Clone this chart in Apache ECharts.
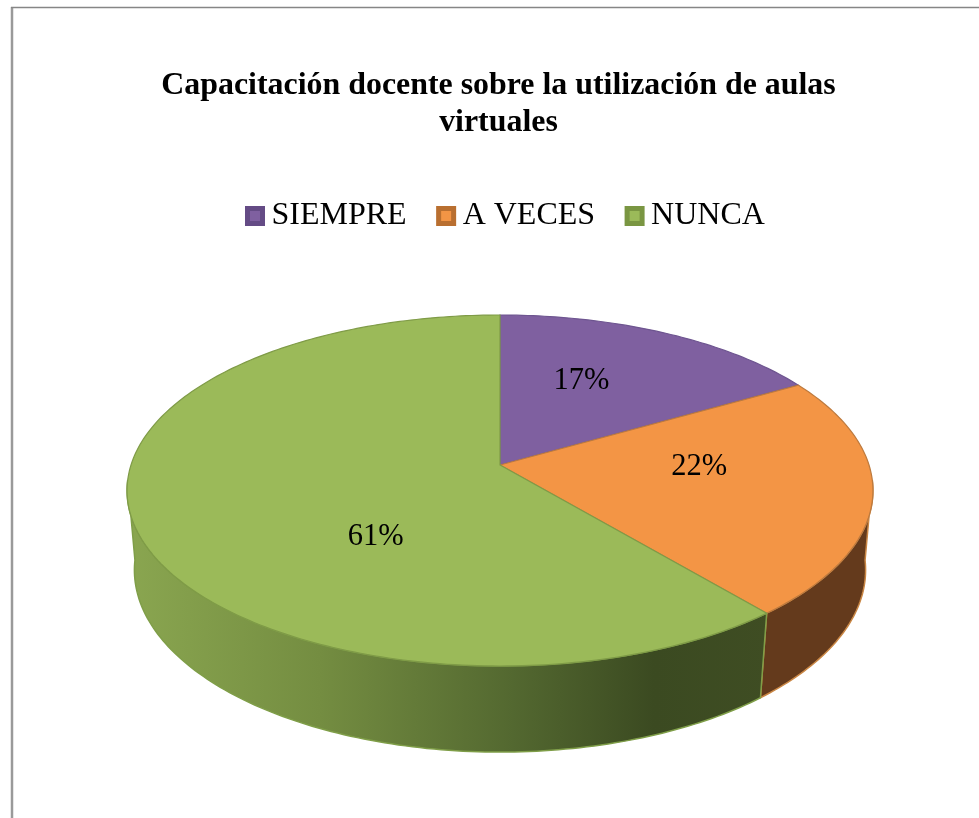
<!DOCTYPE html>
<html>
<head>
<meta charset="utf-8">
<style>
  html, body { margin: 0; padding: 0; background: #fff; }
  #chart { width: 979px; height: 818px; }
</style>
</head>
<body>
<div id="chart"></div>
<script src="https://cdn.jsdelivr.net/npm/echarts@6/dist/echarts.min.js"></script>
<script>
const categories = ["SIEMPRE", "A VECES", "NUNCA"];
const percents = [16.7, 22.2, 61.1];

const topColors = ["#7f60a0", "#f39545", "#9bba59"];
const edgeColors = ["#6e5590", "#bd7a3e", "#7f9b47"];
const legendBorders = ["#644b85", "#b96f30", "#7a9642"];
const wallEdges = ["#6a4f8a", "#c98644", "#7f9e48"];

// where each percentage sits inside its slice (unit circle), excel does not use the mid angle
const labelRadius = [0.59, 0.54, 0.5];
const labelTurn = [-6.3, -10, -30.5];

// the two perspective planes of the pie, top face and bottom face
const topPlane = { cx: 500, cy: 465, a: 369, b: 171.8, p: 0.1453 };
const bottomPlane = { cx: 500, cy: 544.5, a: 362, b: 178.5, p: 0.14 };

const total = percents.reduce((s, v) => s + v, 0);

function project(plane, deg, r) {
  let rad = (deg * Math.PI) / 180;
  let X = Math.sin(rad) * r;
  let Y = -Math.cos(rad) * r;
  let w = 1 - plane.p * Y;
  return [plane.cx + (plane.a * X) / w, plane.cy + (plane.b * Y) / w];
}

function arc(plane, from, to) {
  let pts = [];
  let steps = Math.max(2, Math.ceil(Math.abs(to - from)));
  for (let i = 0; i <= steps; i++) {
    pts.push(project(plane, from + ((to - from) * i) / steps, 1));
  }
  return pts;
}

function sliceAngles(idx) {
  let start = 0;
  for (let i = 0; i < idx; i++) start += percents[i];
  return [(start / total) * 360, ((start + percents[idx]) / total) * 360];
}

function wallFill(idx) {
  if (idx === 2) {
    return new echarts.graphic.LinearGradient(127, 0, 770, 0, [
      { offset: 0, color: "#8aa650" },
      { offset: 0.3, color: "#748d41" },
      { offset: 0.6, color: "#536830" },
      { offset: 0.82, color: "#3b4a21" },
      { offset: 1, color: "#3f4d23" },
    ], true);
  }
  return "#643a1c";
}

function renderWall(params) {
  let idx = params.dataIndex;
  let a = sliceAngles(idx);
  // only the front part of the rim can be seen
  let from = Math.max(a[0], 95);
  let to = Math.min(a[1], 265);
  if (to <= from) return { type: "group", children: [] };
  let pts = arc(topPlane, from, to).concat(arc(bottomPlane, from, to).reverse());
  return {
    type: "polygon",
    shape: { points: pts },
    style: { fill: wallFill(idx), stroke: wallEdges[idx], lineWidth: 1.5 },
  };
}

function renderTop(params) {
  let idx = params.dataIndex;
  let a = sliceAngles(idx);
  let mid = (a[0] + a[1]) / 2 + labelTurn[idx];
  let c = project(topPlane, mid, labelRadius[idx]);
  let pts = [project(topPlane, 0, 0)].concat(arc(topPlane, a[0], a[1]));
  return {
    type: "group",
    children: [
      {
        type: "polygon",
        shape: { points: pts },
        style: { fill: topColors[idx], stroke: edgeColors[idx], lineWidth: 1.2 },
      },
      {
        type: "text",
        z2: 10,
        style: {
          x: c[0],
          y: c[1] + 2,
          text: Math.round(percents[idx]) + "%",
          fill: "#000",
          font: '30.5px "Liberation Serif"',
          align: "center",
          verticalAlign: "middle",
        },
      },
    ],
  };
}

let myChart = echarts.init(document.getElementById("chart"), null, { renderer: "canvas" });
let sliceData = percents.map((v, i) => ({ name: categories[i], value: v }));

let option = {
  backgroundColor: "#fff",
  animation: false,
  graphic: [
    {
      type: "line",
      silent: true,
      shape: { x1: 12, y1: 7, x2: 12, y2: 818 },
      style: { stroke: "#9a9a9a", lineWidth: 2.5 },
    },
    {
      type: "line",
      silent: true,
      shape: { x1: 11, y1: 7.5, x2: 979, y2: 7.5 },
      style: { stroke: "#868686", lineWidth: 1.5 },
    },
  ],
  title: {
    text: "Capacitación docente sobre la utilización de aulas\nvirtuales",
    left: 493.5,
    top: 62,
    textAlign: "center",
    textStyle: {
      fontFamily: "Liberation Serif",
      fontWeight: "bold",
      fontSize: 31.9,
      lineHeight: 37,
      color: "#000",
    },
  },
  legend: {
    data: categories.map((name, i) => ({
      name: name,
      icon: "rect",
      itemStyle: { color: topColors[i], borderColor: legendBorders[i], borderWidth: 5 },
    })),
    left: 240,
    top: 195,
    itemWidth: 15,
    itemHeight: 15,
    itemGap: 29.5,
    selectedMode: false,
    textStyle: { fontFamily: "Liberation Serif", fontSize: 32, color: "#000", padding: [0, 0, 0, 4] },
  },
  series: [
    {
      type: "custom",
      name: "wall",
      coordinateSystem: "none",
      z: 1,
      silent: true,
      renderItem: renderWall,
      data: sliceData,
    },
  ].concat(
    categories.map((name, i) => ({
      type: "custom",
      name: name,
      coordinateSystem: "none",
      z: 2,
      silent: true,
      itemStyle: { color: topColors[i] },
      renderItem: function () {
        return renderTop({ dataIndex: i });
      },
      data: [sliceData[i]],
    }))
  ),
};

option && myChart.setOption(option);
</script>
</body>
</html>
